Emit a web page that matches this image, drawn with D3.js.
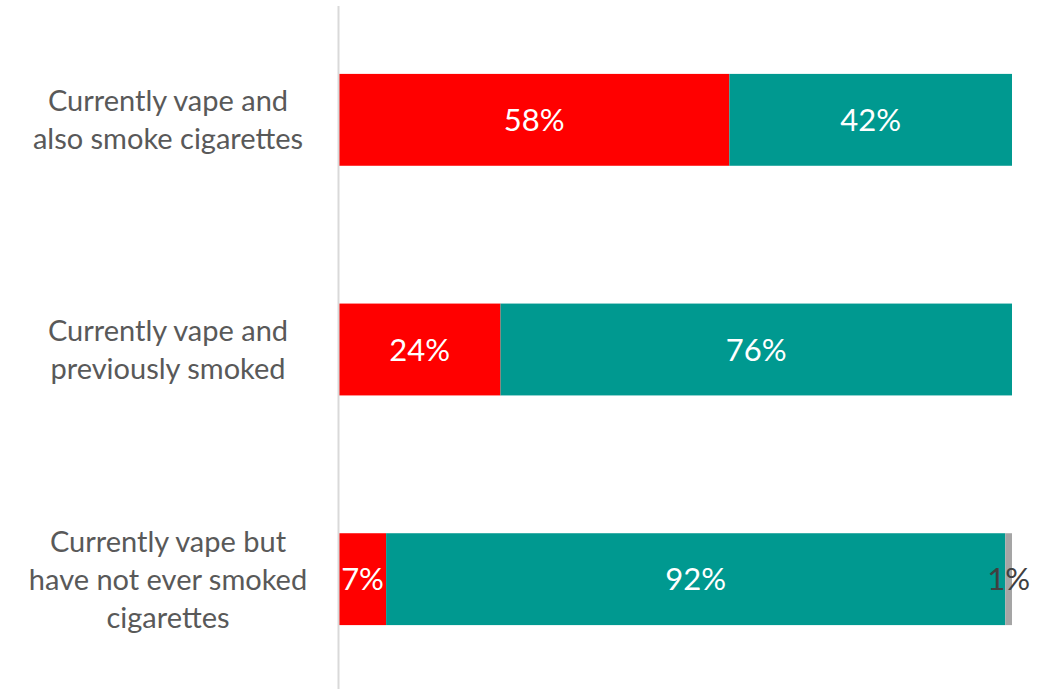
<!DOCTYPE html>
<html><head><meta charset="utf-8">
<script src="https://cdn.jsdelivr.net/npm/d3@7"></script>
<style>body{margin:0;background:#fff;}svg{display:block;}</style>
</head><body>
<svg id="chart" width="1048" height="689"></svg>
<script>
const categories = [
  ["Currently vape and", "also smoke cigarettes"],
  ["Currently vape and", "previously smoked"],
  ["Currently vape but", "have not ever smoked", "cigarettes"]
];
const seriesNames = ["Red", "Teal", "Gray"];
const redValues = [58, 24, 7];
const tealValues = [42, 76, 92];
const grayValues = [0, 0, 1];
const colors = ["#FF0000", "#009990", "#A5A5A5"];
const labelColors = ["#FFFFFF", "#FFFFFF", "#404040"];

const svg = d3.select("#chart");
const keys = categories.map((c, i) => "c" + i);
const rows = keys.map((k, i) => ({key: k, Red: redValues[i], Teal: tealValues[i], Gray: grayValues[i]}));
const stack = d3.stack().keys(seriesNames)(rows);

const x = d3.scaleLinear().domain([0, 100]).range([339, 1012]);
const y = d3.scaleBand().domain(keys).range([5, 694]).paddingInner(0.6).paddingOuter(0.3);

stack.forEach((s, si) => {
  const g = svg.append("g");
  g.selectAll("rect").data(s).join("rect")
    .attr("x", d => x(d[0]))
    .attr("y", d => y(d.data.key))
    .attr("width", d => x(d[1]) - x(d[0]))
    .attr("height", y.bandwidth())
    .attr("fill", colors[si]);
  g.selectAll("text").data(s.filter(d => d[1] - d[0] > 0)).join("text")
    .attr("x", d => (x(d[0]) + x(d[1])) / 2)
    .attr("y", d => y(d.data.key) + y.bandwidth() / 2)
    .attr("dy", "0.36em")
    .attr("text-anchor", "middle")
    .attr("font-family", "Lato, 'Open Sans', sans-serif")
    .attr("font-size", 31)
    .attr("fill", labelColors[si])
    .text(d => (d[1] - d[0]) + "%");
});

// axis line
svg.append("line").attr("x1", 338.5).attr("x2", 338.5).attr("y1", 6).attr("y2", 689)
  .attr("stroke", "#D9D9D9").attr("stroke-width", 2);

// category labels
const lab = svg.append("g");
categories.forEach((lines, i) => {
  const cy = y(keys[i]) + y.bandwidth() / 2;
  const lh = 38;
  const t = lab.append("text")
    .attr("text-anchor", "middle")
    .attr("font-family", "Lato, 'Open Sans', sans-serif")
    .attr("font-size", 29)
    .attr("fill", "#595959");
  lines.forEach((ln, j) => {
    t.append("tspan").attr("x", 168)
      .attr("y", cy + (j - (lines.length - 1) / 2) * lh)
      .attr("dy", "0.36em")
      .text(ln);
  });
});
</script>
</body></html>
